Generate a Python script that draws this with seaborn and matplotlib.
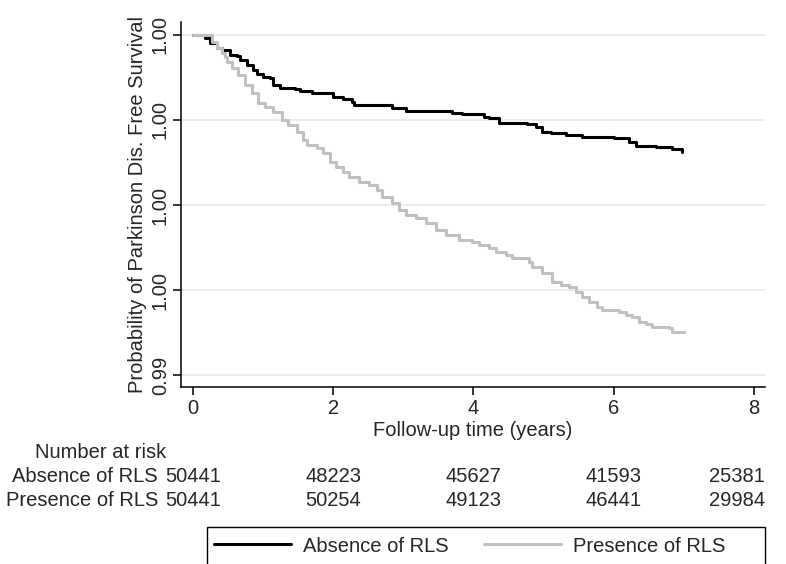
import matplotlib
matplotlib.use("Agg")
import matplotlib.pyplot as plt
import matplotlib.transforms as mtransforms
from matplotlib.patches import Rectangle
import seaborn as sns
import pandas as pd
import numpy as np

# Kaplan-Meier estimates
absence_t = [0.0, 0.171, 0.242, 0.341, 0.413, 0.526, 0.626, 0.669, 0.768, 0.853, 0.910, 0.996,
             1.095, 1.138, 1.238, 1.451, 1.522, 1.693, 1.878, 1.991, 2.134, 2.262, 2.304, 2.731,
             2.845, 3.044, 3.698, 3.841, 4.154, 4.225, 4.367, 4.765, 4.893, 4.979, 5.107, 5.320,
             5.548, 6.003, 6.216, 6.316, 6.600, 6.828, 6.970]
absence_s = [1.0, 0.99991, 0.99976, 0.99962, 0.99956, 0.99941, 0.99938, 0.99926, 0.99912, 0.99897,
             0.99885, 0.99876, 0.99874, 0.99853, 0.99844, 0.99841, 0.99835, 0.99829, 0.99829,
             0.99818, 0.99812, 0.99803, 0.99794, 0.99794, 0.99785, 0.99776, 0.99771, 0.99768,
             0.99759, 0.99756, 0.99741, 0.99738, 0.99729, 0.99715, 0.99712, 0.99706, 0.99700,
             0.99697, 0.99685, 0.99674, 0.99671, 0.99665, 0.99656]
presence_t = [0.0, 0.171, 0.270, 0.341, 0.413, 0.455, 0.484, 0.555, 0.640, 0.740, 0.839, 0.925,
              1.024, 1.138, 1.266, 1.351, 1.479, 1.565, 1.622, 1.764, 1.849, 1.949, 2.048, 2.134,
              2.233, 2.376, 2.518, 2.632, 2.703, 2.845, 2.945, 3.044, 3.186, 3.329, 3.471, 3.613,
              3.798, 3.983, 4.082, 4.225, 4.324, 4.467, 4.552, 4.794, 4.836, 4.979, 5.121, 5.249,
              5.363, 5.462, 5.548, 5.647, 5.761, 5.832, 6.074, 6.174, 6.259, 6.358, 6.458, 6.543,
              6.785, 6.828, 6.999]
presence_s = [1.0, 1.0, 0.99979, 0.99962, 0.99947, 0.99935, 0.99921, 0.99903, 0.99882, 0.99853,
              0.99829, 0.99800, 0.99788, 0.99774, 0.99750, 0.99735, 0.99715, 0.99691, 0.99676,
              0.99668, 0.99653, 0.99626, 0.99612, 0.99597, 0.99582, 0.99568, 0.99559, 0.99544,
              0.99524, 0.99506, 0.99485, 0.99471, 0.99462, 0.99447, 0.99426, 0.99412, 0.99397,
              0.99391, 0.99382, 0.99374, 0.99362, 0.99353, 0.99344, 0.99332, 0.99318, 0.99300,
              0.99274, 0.99265, 0.99259, 0.99244, 0.99229, 0.99215, 0.99200, 0.99191, 0.99185,
              0.99176, 0.99171, 0.99156, 0.99150, 0.99141, 0.99138, 0.99126, 0.99126]

groups = ["Absence of RLS", "Presence of RLS"]
risk_times = [0, 2, 4, 6, 8]
risk_absence = [50441, 48223, 45627, 41593, 25381]
risk_presence = [50441, 50254, 49123, 46441, 29984]
y_ticks = [0.99, 0.9925, 0.995, 0.9975, 1.0]
y_ticklabels = ["0.99", "1.00", "1.00", "1.00", "1.00"]

df = pd.concat([
    pd.DataFrame({"t": absence_t, "S": absence_s, "group": groups[0]}),
    pd.DataFrame({"t": presence_t, "S": presence_s, "group": groups[1]}),
])

sns.set_style("white")
plt.rcParams["font.family"] = ["Liberation Sans", "DejaVu Sans"]
FS = 14.5

fig = plt.figure(figsize=(7.86, 5.64), dpi=100)
W, H = 786, 564
ax = fig.add_axes([181 / W, 1 - 387 / H, (765 - 181) / W, (387 - 22) / H])

sns.lineplot(data=df, x="t", y="S", hue="group", hue_order=groups,
             palette=["black", "#c0c0c0"], drawstyle="steps-post",
             estimator=None, linewidth=2.2, legend=False, ax=ax)

ax.set_xlim(-0.17, 8.16)
ax.set_ylim(0.98965, 1.00038)
ax.set_xticks(risk_times)
ax.set_yticks(y_ticks)
ax.set_yticklabels(y_ticklabels, rotation=90, va="center")
ax.yaxis.grid(True, color="#eaeaea", linewidth=1.3)
ax.set_axisbelow(True)
for s in ["top", "right"]:
    ax.spines[s].set_visible(False)
for s in ["left", "bottom"]:
    ax.spines[s].set_color("black")
    ax.spines[s].set_linewidth(1.1)
ax.tick_params(axis="both", which="major", direction="out", length=6, width=1.1,
               color="black", labelsize=FS, left=True, bottom=True)
ax.tick_params(axis="y", pad=2)
ax.tick_params(axis="x", pad=3)
ax.set_xlabel("Follow-up time (years)", fontsize=FS, labelpad=2)
ax.set_ylabel("Probability of Parkinson Dis. Free Survival", fontsize=FS, labelpad=3)

# number at risk table
trans = mtransforms.blended_transform_factory(ax.transData, fig.transFigure)
fig.text(35 / W, 1 - 453 / H, "Number at risk", fontsize=FS, ha="left", va="center")
for row_y, label, vals in [(476, groups[0], risk_absence), (500, groups[1], risk_presence)]:
    fig.text(158 / W, 1 - row_y / H, label, fontsize=FS, ha="right", va="center")
    for i, (t, v) in enumerate(zip(risk_times, vals)):
        if i == len(risk_times) - 1:
            ax.text(8.16, 1 - row_y / H, str(v), fontsize=FS, ha="right", va="center",
                    transform=trans)
        else:
            ax.text(t, 1 - row_y / H, str(v), fontsize=FS, ha="center", va="center",
                    transform=trans)

# legend below
fig.patches.append(Rectangle((207 / W, -0.01), (765 - 207) / W, 0.01 + (1 - 527 / H),
                             transform=fig.transFigure, fill=False, edgecolor="black",
                             linewidth=1.0))
lines = ax.get_lines()[:2]
fig.legend(lines, groups, loc="center left", bbox_to_anchor=(214 / W, 1 - 546 / H),
           ncol=2, frameon=False, fontsize=FS, handlelength=3.8, handletextpad=0.6,
           columnspacing=1.8, borderpad=0, borderaxespad=0)
for l in fig.legends[0].get_lines():
    l.set_linewidth(2.2)

fig.savefig("out.png", dpi=100)
